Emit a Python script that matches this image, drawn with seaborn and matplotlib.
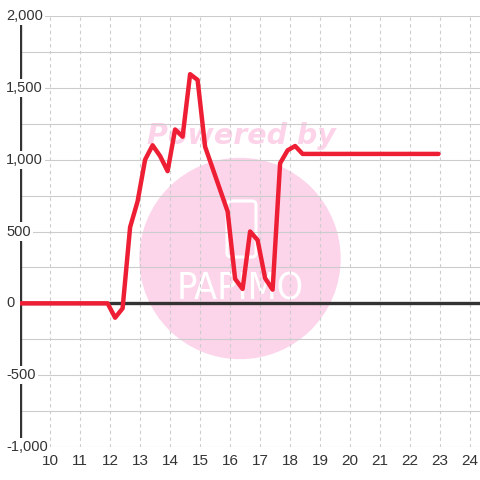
import pandas as pd
import matplotlib.pyplot as plt
import matplotlib.patches as mpatches
import seaborn as sns

# hour of day and value
hours = [9.0, 11.92, 12.17, 12.42, 12.67, 12.92, 13.17, 13.42, 13.67, 13.92,
         14.17, 14.42, 14.67, 14.92, 15.17, 15.92, 16.17, 16.42, 16.67, 16.92,
         17.17, 17.42, 17.67, 17.92, 18.17, 18.42, 22.95]
values = [0, 0, -100, -35, 530, 710, 1000, 1100, 1025, 920,
          1210, 1160, 1595, 1555, 1090, 640, 170, 100, 500, 440,
          175, 95, 975, 1065, 1095, 1040, 1040]

x_ticks = list(range(10, 25))
y_labels = [-1000, -500, 0, 500, 1000, 1500, 2000]

df = pd.DataFrame({'hour': hours, 'value': values})

sns.set_style('white')
plt.rcParams['font.family'] = ['Liberation Sans', 'DejaVu Sans']

fig = plt.figure(figsize=(4.8, 4.8), dpi=100)
ax = fig.add_axes([20 / 480, 33 / 480, 460 / 480, 431 / 480])

# watermark (under the grid)
circ = mpatches.Circle((2.4, 2.215), 1.0, transform=fig.dpi_scale_trans,
                       color='#fcd5ea', zorder=0.1, clip_on=False)
ax.add_patch(circ)
icon = mpatches.FancyBboxPatch((2.29, 2.25), 0.25, 0.52, boxstyle='round,pad=0.02,rounding_size=0.04',
                               transform=fig.dpi_scale_trans, fill=False, ec='white', lw=2.2,
                               zorder=0.2, clip_on=False)
ax.add_patch(icon)
ax.text(2.415, 3.44, 'Powered by', transform=fig.dpi_scale_trans, ha='center', va='center',
        fontsize=20.5, fontweight='bold', fontstyle='italic', color='#fcd3e8', zorder=0.2,
        family='DejaVu Sans')
ax.text(2.4, 1.9, 'PAPIMO', transform=fig.dpi_scale_trans, ha='center', va='center',
        fontsize=27, fontweight='light', color='white', zorder=0.2, family='DejaVu Sans',
        fontstretch='condensed')

sns.lineplot(data=df, x='hour', y='value', color='#ee1f35', linewidth=3.2, ax=ax, zorder=4)

ax.set_xlim(9, 24.333)
ax.set_ylim(-1000, 2000)
ax.set_xticks(x_ticks)
ax.set_yticks(range(-1000, 2001, 250))
ax.tick_params(axis='y', labelleft=False, length=0)
ax.tick_params(axis='x', length=0, pad=5, labelsize=11, labelcolor='#333333')
ax.set_xlabel('')
ax.set_ylabel('')
for s in ax.spines.values():
    s.set_visible(False)

ax.set_axisbelow(True)
ax.grid(axis='y', color='#cccccc', linewidth=0.8)
ax.grid(axis='x', color='#cccccc', linewidth=0.8, linestyle=(0, (3, 3)))

ax.axvline(9, color='#333333', linewidth=2.4, zorder=3)
ax.axhline(0, color='#333333', linewidth=2.4, zorder=3)

for v in y_labels:
    ax.text(-0.03, v, f'{v:,}', transform=ax.get_yaxis_transform(), ha='left', va='center',
            fontsize=10.5, color='#333333', zorder=6, clip_on=False,
            bbox=dict(facecolor='white', edgecolor='none', pad=1.5))

fig.savefig('out.png', dpi=100)
